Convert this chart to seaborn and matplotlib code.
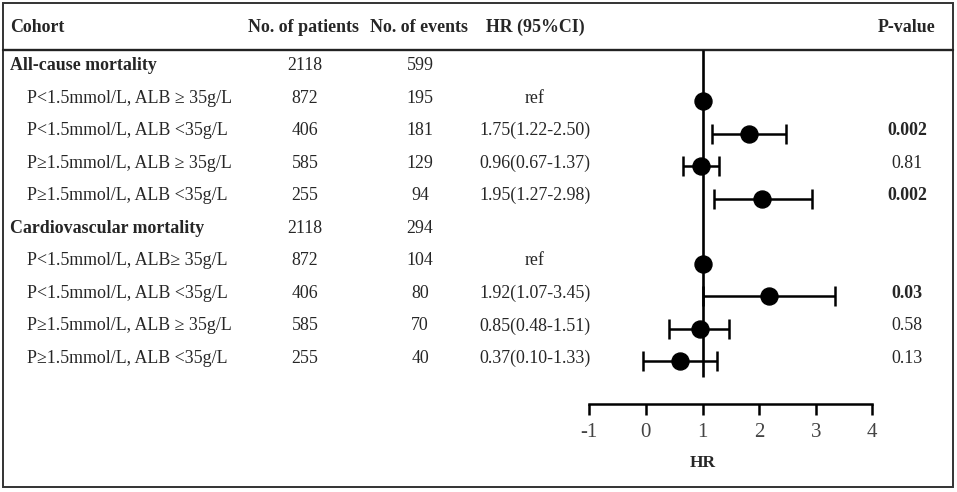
import numpy as np
import pandas as pd
import seaborn as sns
import matplotlib.pyplot as plt
from matplotlib.patches import Rectangle

# table content
cohorts = ["All-cause mortality",
           "P<1.5mmol/L, ALB \u2265 35g/L",
           "P<1.5mmol/L, ALB <35g/L",
           "P\u22651.5mmol/L, ALB \u2265 35g/L",
           "P\u22651.5mmol/L, ALB <35g/L",
           "Cardiovascular mortality",
           "P<1.5mmol/L, ALB\u2265 35g/L",
           "P<1.5mmol/L, ALB <35g/L",
           "P\u22651.5mmol/L, ALB \u2265 35g/L",
           "P\u22651.5mmol/L, ALB <35g/L"]
is_group = [True, False, False, False, False, True, False, False, False, False]
n_patients = [2118, 872, 406, 585, 255, 2118, 872, 406, 585, 255]
n_events = [599, 195, 181, 129, 94, 294, 104, 80, 70, 40]
hr_text = ["", "ref", "1.75(1.22-2.50)", "0.96(0.67-1.37)", "1.95(1.27-2.98)",
           "", "ref", "1.92(1.07-3.45)", "0.85(0.48-1.51)", "0.37(0.10-1.33)"]
p_text = ["", "", "0.002", "0.81", "0.002", "", "", "0.03", "0.58", "0.13"]
p_bold = [False, False, True, False, True, False, False, True, False, False]

# forest plot values (as drawn), subgroup rows only
hr_rows = [1, 2, 3, 4, 6, 7, 8, 9]
hr_point = [1.00, 1.83, 0.97, 2.06, 1.00, 2.18, 0.96, 0.61]
hr_low = [1.00, 1.17, 0.66, 1.21, 1.00, 1.01, 0.40, -0.05]
hr_high = [1.00, 2.47, 1.29, 2.93, 1.00, 3.34, 1.46, 1.25]
x_ticks = [-1, 0, 1, 2, 3, 4]

sns.set_style("white")
plt.rcParams['font.family'] = ['Liberation Serif', 'DejaVu Serif']

W, H = 957, 492
fig = plt.figure(figsize=(W / 100, H / 100), dpi=100)

# background axes in pixel units for the table
bg = fig.add_axes([0, 0, 1, 1])
bg.set_xlim(0, W)
bg.set_ylim(H, 0)
bg.axis('off')

fs = 12.9
row_y = 65.5 + 32.55 * np.arange(len(cohorts))

bg.add_patch(Rectangle((3, 3), 950, 484, fill=False, lw=1.4, ec='#333333'))
bg.plot([3, 953], [50, 50], color='#222222', lw=1.7)

hy = 27
bg.text(10, hy, "Cohort", fontsize=fs, fontweight='bold', va='center')
bg.text(304, hy, "No. of patients", fontsize=fs, fontweight='bold', va='center', ha='center')
bg.text(419, hy, "No. of events", fontsize=fs, fontweight='bold', va='center', ha='center')
bg.text(535, hy, "HR (95%CI)", fontsize=fs, fontweight='bold', va='center', ha='center')
bg.text(907, hy, "P-value", fontsize=fs, fontweight='bold', va='center', ha='center')

for i, y in enumerate(row_y):
    if is_group[i]:
        bg.text(10, y, cohorts[i], fontsize=fs, fontweight='bold', va='center')
    else:
        bg.text(27, y, cohorts[i], fontsize=fs, va='center')
    bg.text(305, y, str(n_patients[i]), fontsize=fs, va='center', ha='center')
    bg.text(420, y, str(n_events[i]), fontsize=fs, va='center', ha='center')
    if hr_text[i]:
        bg.text(535, y, hr_text[i], fontsize=fs, va='center', ha='center')
    if p_text[i]:
        bg.text(907, y, p_text[i], fontsize=fs, va='center', ha='center',
                fontweight='bold' if p_bold[i] else 'normal')

# forest axes, x in HR units
x0, x1 = 589.3, 872.3
ax = fig.add_axes([x0 / W, 0, (x1 - x0) / W, 1])
ax.set_facecolor('none')
ax.set_xlim(-1, 4)
ax.set_ylim(H, 0)

df = pd.DataFrame({
    "y": row_y[hr_rows] + 3,
    "hr": hr_point,
    "lo": hr_low,
    "hi": hr_high,
})

ax.vlines(1, 50, 377, color='black', lw=1.9, zorder=1)
ci = df[df.hi > df.lo]
ax.errorbar(ci.hr, ci.y, xerr=[ci.hr - ci.lo, ci.hi - ci.hr], fmt='none',
            ecolor='black', elinewidth=1.8, capsize=7, capthick=1.8, zorder=2)
sns.scatterplot(data=df, x="hr", y="y", s=150, color='black', edgecolor='black',
                ax=ax, zorder=3, legend=False)

for s in ['left', 'right', 'top']:
    ax.spines[s].set_visible(False)
ax.spines['bottom'].set_position(('data', 404))
ax.spines['bottom'].set_linewidth(1.8)
ax.spines['bottom'].set_color('black')
ax.set_yticks([])
ax.set_xticks(x_ticks)
ax.set_xticklabels([str(t) for t in x_ticks])
ax.tick_params(axis='x', bottom=True, direction='out', length=8, width=1.8,
               color='black', pad=6, labelsize=15, labelcolor='#444444')
ax.set_xlabel("")
ax.set_ylabel("")
ax.text(1, 463, "HR", fontsize=12.5, fontweight='bold', ha='center', va='center')

fig.savefig("out.png", dpi=100)
